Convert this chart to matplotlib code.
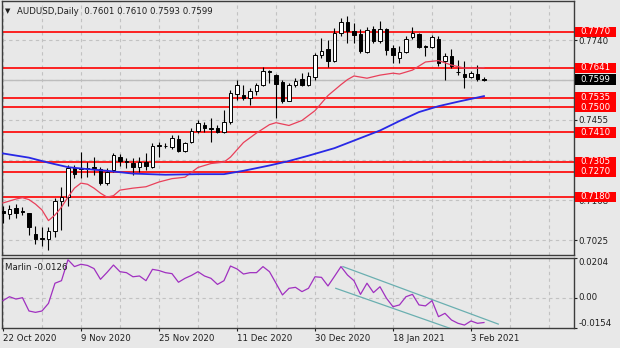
import numpy as np
import pandas as pd
import matplotlib.pyplot as plt
from matplotlib.patches import Rectangle
from matplotlib.transforms import blended_transform_factory

plt.rcParams['font.family'] = 'DejaVu Sans'
plt.rcParams['font.size'] = 6.2

# daily bars, no Christmas / New Year sessions
days = pd.bdate_range('2020-10-22', '2021-02-05')
days = days[~days.isin(pd.to_datetime(['2020-12-25', '2021-01-01']))]

opens = [0.7130, 0.7118, 0.7139, 0.7129, 0.7121, 0.7047, 0.7031, 0.7029, 0.7059, 0.7165,
         0.7178, 0.7282, 0.7278, 0.7282, 0.7285, 0.7278, 0.7228, 0.7276, 0.7321, 0.7305,
         0.7302, 0.7285, 0.7305, 0.7285, 0.7363, 0.7361, 0.7357, 0.7386, 0.7345, 0.7377,
         0.7416, 0.7436, 0.7426, 0.7425, 0.7412, 0.7448, 0.7548, 0.7545, 0.7535, 0.7559,
         0.7578, 0.7628, 0.7616, 0.7590, 0.7523, 0.7578, 0.7602, 0.7578, 0.7607, 0.7686,
         0.7709, 0.7666, 0.7765, 0.7805, 0.7774, 0.7762, 0.7697, 0.7781, 0.7736, 0.7781,
         0.7712, 0.7678, 0.7697, 0.7750, 0.7762, 0.7718, 0.7714, 0.7745, 0.7664, 0.7684,
         0.7627, 0.7619, 0.7607, 0.7619, 0.7601]
highs = [0.7147, 0.7150, 0.7156, 0.7144, 0.7123, 0.7075, 0.7073, 0.7071, 0.7174, 0.7216,
         0.7293, 0.7293, 0.7341, 0.7305, 0.7323, 0.7287, 0.7282, 0.7335, 0.7333, 0.7317,
         0.7317, 0.7323, 0.7335, 0.7371, 0.7377, 0.7371, 0.7401, 0.7401, 0.7377, 0.7425,
         0.7454, 0.7448, 0.7460, 0.7436, 0.7490, 0.7562, 0.7597, 0.7580, 0.7569, 0.7587,
         0.7643, 0.7634, 0.7619, 0.7598, 0.7587, 0.7604, 0.7622, 0.7626, 0.7694, 0.7747,
         0.7741, 0.7783, 0.7821, 0.7825, 0.7801, 0.7781, 0.7786, 0.7789, 0.7809, 0.7783,
         0.7724, 0.7718, 0.7754, 0.7786, 0.7765, 0.7724, 0.7759, 0.7754, 0.7694, 0.7709,
         0.7670, 0.7666, 0.7628, 0.7652, 0.7610]
lows = [0.7086, 0.7099, 0.7103, 0.7115, 0.7043, 0.7013, 0.7004, 0.6990, 0.7037, 0.7061,
        0.7147, 0.7246, 0.7247, 0.7252, 0.7258, 0.7222, 0.7222, 0.7269, 0.7290, 0.7282,
        0.7258, 0.7269, 0.7276, 0.7282, 0.7323, 0.7353, 0.7350, 0.7341, 0.7341, 0.7371,
        0.7407, 0.7412, 0.7377, 0.7407, 0.7409, 0.7442, 0.7526, 0.7527, 0.7509, 0.7543,
        0.7575, 0.7587, 0.7461, 0.7515, 0.7521, 0.7571, 0.7575, 0.7575, 0.7598, 0.7676,
        0.7643, 0.7662, 0.7754, 0.7730, 0.7730, 0.7694, 0.7694, 0.7730, 0.7730, 0.7688,
        0.7658, 0.7658, 0.7694, 0.7745, 0.7712, 0.7682, 0.7712, 0.7646, 0.7598, 0.7640,
        0.7616, 0.7569, 0.7605, 0.7593, 0.7593]
closes = [0.7122, 0.7135, 0.7121, 0.7125, 0.7071, 0.7029, 0.7028, 0.7059, 0.7165, 0.7178,
          0.7284, 0.7260, 0.7284, 0.7279, 0.7283, 0.7230, 0.7269, 0.7329, 0.7309, 0.7307,
          0.7285, 0.7305, 0.7290, 0.7361, 0.7365, 0.7360, 0.7389, 0.7345, 0.7373, 0.7416,
          0.7445, 0.7427, 0.7424, 0.7412, 0.7448, 0.7550, 0.7579, 0.7535, 0.7559, 0.7578,
          0.7628, 0.7626, 0.7583, 0.7521, 0.7578, 0.7595, 0.7578, 0.7611, 0.7688, 0.7702,
          0.7666, 0.7765, 0.7805, 0.7774, 0.7759, 0.7700, 0.7776, 0.7736, 0.7781, 0.7706,
          0.7686, 0.7697, 0.7745, 0.7765, 0.7714, 0.7714, 0.7750, 0.7658, 0.7684, 0.7646,
          0.7625, 0.7607, 0.7622, 0.7602, 0.7599]

# fast (red) and slow (blue) moving averages
red_ma_idx = [0, 2, 3, 4, 5, 6, 7, 8, 9, 10, 11, 12, 13, 14, 15, 16, 17, 18, 20, 22, 24, 26, 28,
              30, 32, 34, 35, 37, 39, 41, 42, 44, 46, 48, 50, 52, 53, 54, 56, 58, 60, 61, 63,
              65, 67, 69, 71, 73, 74]
red_ma = [0.7158, 0.7172, 0.7177, 0.7170, 0.7154, 0.7133, 0.7095, 0.7115, 0.7143, 0.7179,
          0.7211, 0.7229, 0.7225, 0.7211, 0.7193, 0.7179, 0.7184, 0.7204, 0.7211, 0.7216,
          0.7233, 0.7245, 0.7250, 0.7285, 0.7299, 0.7304, 0.7322, 0.7374, 0.7408, 0.7438,
          0.7445, 0.7435, 0.7453, 0.7488, 0.7542, 0.7581, 0.7599, 0.7612, 0.7604, 0.7615,
          0.7622, 0.7619, 0.7633, 0.7662, 0.7667, 0.7651, 0.7640, 0.7640, 0.7642]
blue_ma_idx = [0, 4, 7, 10, 13, 16, 20, 25, 30, 34, 37, 41, 44, 47, 51, 54, 58, 61, 64, 67, 70, 74]
blue_ma = [0.7335, 0.7320, 0.7302, 0.7286, 0.7279, 0.7273, 0.7263, 0.7259, 0.7261, 0.7261,
           0.7273, 0.7292, 0.7308, 0.7327, 0.7354, 0.7381, 0.7417, 0.7451, 0.7483, 0.7504,
           0.7520, 0.7540]

marlin = [-0.0014, 0.0006, -0.0006, 0.0001, -0.0067, -0.0074, -0.0067, -0.0028, 0.0075, 0.0088,
          0.0195, 0.0160, 0.0172, 0.0166, 0.0150, 0.0095, 0.0130, 0.0168, 0.0134, 0.0129,
          0.0108, 0.0112, 0.0088, 0.0146, 0.0140, 0.0129, 0.0124, 0.0080, 0.0100, 0.0115,
          0.0134, 0.0112, 0.0100, 0.0069, 0.0088, 0.0163, 0.0148, 0.0122, 0.0129, 0.0129,
          0.0160, 0.0134, 0.0075, 0.0015, 0.0049, 0.0054, 0.0032, 0.0049, 0.0108, 0.0105,
          0.0061, 0.0110, 0.0160, 0.0117, 0.0088, 0.0018, 0.0075, 0.0027, 0.0057, -0.0002,
          -0.0045, -0.0036, 0.0006, 0.0018, -0.0036, -0.0041, -0.0014, -0.0096, -0.0079, -0.0113,
          -0.0130, -0.0139, -0.0118, -0.0130, -0.0126]

# descending channel on the oscillator (bar index, value)
chan_upper_idx = [52.3, 76.2]
chan_upper_val = [0.0160, -0.0134]
chan_lower_idx = [51.2, 70.0]
chan_lower_val = [0.0049, -0.0170]

levels = [0.7770, 0.7641, 0.7535, 0.7500, 0.7410, 0.7305, 0.7270, 0.7180]
price_ticks = [0.7740, 0.7597, 0.7455, 0.7312, 0.7168, 0.7025]
price_tick_labels = ['0.7740', '', '0.7455', '', '0.7168', '0.7025']
marlin_ticks = [-0.0154, 0.0, 0.0204]
marlin_tick_labels = ['-0.0154', '0.00', '0.0204']

bg = '#E8E8E8'
fg = '#1E1E1E'
frame = '#3C3C3C'
grid_kw = dict(color='#C2C2C2', lw=0.8, ls=(0, (3, 3)), zorder=1)

W, H = 620, 348
fig = plt.figure(figsize=(W / 100, H / 100), dpi=100, facecolor=bg)
ax = fig.add_axes([2 / W, 1 - 255 / H, 572 / W, 254 / H], facecolor=bg)
axm = fig.add_axes([2 / W, 1 - 328 / H, 572 / W, 70 / H], facecolor=bg, sharex=ax)

x = np.arange(len(days))
o, h, l, c = map(np.array, (opens, highs, lows, closes))
up = c >= o

# grid
for g in np.arange(0, 90, 6):
    ax.axvline(g, **grid_kw)
    axm.axvline(g, **grid_kw)
for t in price_ticks:
    ax.axhline(t, **grid_kw)
axm.axhline(0, **grid_kw)

# bid line
ax.axhline(closes[-1], color='#BDBDBD', lw=1.0, zorder=1.5)

# support / resistance levels
for lev in levels:
    ax.axhline(lev, color='#FF0000', lw=1.2, zorder=2)

# candles
ax.vlines(x, l, h, color='black', lw=0.8, zorder=3)
ax.bar(x, np.maximum(np.abs(c - o), 0.00002), bottom=np.minimum(o, c), width=0.55,
       color=np.where(up, 'white', 'black'), edgecolor='black', lw=0.7, zorder=4)

ax.plot(red_ma_idx, red_ma, color='#E8405A', lw=0.9, zorder=5)
ax.plot(blue_ma_idx, blue_ma, color='#2828E6', lw=1.3, zorder=5)

ax.set_xlim(-0.15, 87.85)
ax.set_ylim(0.6972, 0.7880)

# price axis
ax.yaxis.tick_right()
ax.set_yticks(price_ticks)
ax.set_yticklabels(price_tick_labels)
ax.tick_params(axis='y', length=2.2, width=0.8, pad=1, colors=fg, labelsize=6.2)
ax.tick_params(axis='x', bottom=False, labelbottom=False)

# level tags on the price scale
tr = blended_transform_factory(ax.transAxes, ax.transData)
tag_h = 0.0037
for lev in levels:
    ax.add_patch(Rectangle((1.0017, lev - tag_h / 2), 0.0717, tag_h, transform=tr,
                           clip_on=False, fc='#FF0000', ec='none', zorder=10))
    ax.text(1.0105, lev, f'{lev:.4f}', transform=tr, color='white', va='center',
            ha='left', fontsize=6.2, zorder=11, clip_on=False)
ax.add_patch(Rectangle((1.0017, closes[-1] - tag_h / 2), 0.0717, tag_h, transform=tr,
                       clip_on=False, fc='black', ec='none', zorder=10))
ax.text(1.0105, closes[-1], f'{closes[-1]:.4f}', transform=tr, color='white', va='center',
        ha='left', fontsize=6.2, zorder=11, clip_on=False)

# oscillator
axm.plot(x, marlin, color='#A030C0', lw=0.9, zorder=4)
axm.plot(chan_upper_idx, chan_upper_val, color='#6AAFB0', lw=0.9, zorder=3)
axm.plot(chan_lower_idx, chan_lower_val, color='#6AAFB0', lw=0.9, zorder=3)
axm.set_ylim(-0.0154, 0.0204)
axm.yaxis.tick_right()
axm.set_yticks(marlin_ticks)
axm.set_yticklabels(marlin_tick_labels)
for lab, va in zip(axm.get_yticklabels(), ['bottom', 'center', 'top']):
    lab.set_va(va)
axm.tick_params(axis='y', length=2.2, width=0.8, pad=1, colors=fg, labelsize=6.2)

date_idx = list(range(0, len(days), 12))
axm.set_xticks(date_idx)
axm.set_xticklabels([f'{days[i].day} {days[i]:%b %Y}' for i in date_idx])
for lab in axm.get_xticklabels():
    lab.set_ha('left')
axm.tick_params(axis='x', length=2.5, width=0.8, pad=1.5, colors=fg, labelsize=6.2)

for a in (ax, axm):
    for s in a.spines.values():
        s.set_color(frame)
        s.set_linewidth(1.0)

# headers
fig.text(5 / W, 1 - 11 / H, '\u25BC', fontsize=5, color=fg, va='center')
fig.text(17 / W, 1 - 11 / H,
         f'AUDUSD,Daily  {opens[-1]:.4f} {highs[-1]:.4f} {lows[-1]:.4f} {closes[-1]:.4f}',
         color=fg, va='center', fontsize=6.2)
fig.text(5 / W, 1 - 267 / H, f'Marlin {marlin[-1]:.4f}', color=fg, va='center', fontsize=6.2)

fig.savefig('out.png', dpi=100, facecolor=bg)
